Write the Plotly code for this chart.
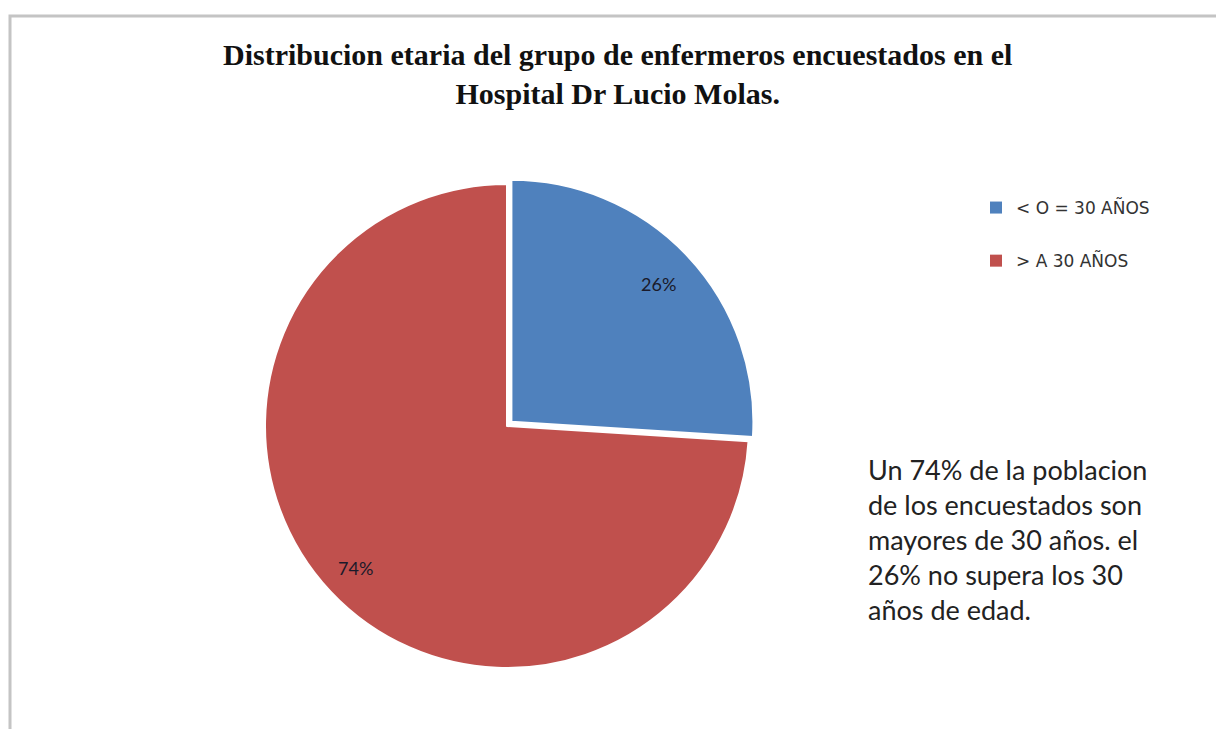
import math
import plotly.graph_objects as go

# Age groups and their share of surveyed nurses (%)
groups = ["< O = 30 AÑOS", "> A 30 AÑOS"]
shares = [26, 74]
colors = ["#4F81BD", "#C0504D"]

title_lines = [
    "Distribucion etaria del grupo de enfermeros encuestados en el",
    "Hospital Dr Lucio Molas.",
]
note_lines = [
    "Un 74% de la poblacion",
    "de los encuestados son",
    "mayores de 30 años. el",
    "26% no supera los 30",
    "años de edad.",
]

W, H = 1216, 729
cx, cy, r = 507, 426, 242
pull = 0.025
half = r * (1 + pull)

fig = go.Figure()

fig.add_trace(go.Pie(
    labels=groups,
    values=shares,
    sort=False,
    direction="clockwise",
    rotation=0,
    pull=[pull, 0],
    marker=dict(colors=colors, line=dict(color="white", width=2)),
    textinfo="none",
    domain=dict(x=[(cx - half) / W, (cx + half) / W],
                y=[1 - (cy + half) / H, 1 - (cy - half) / H]),
    showlegend=False,
    hoverinfo="label+percent",
))

# Legend entries, one group per age band so they can be spaced apart
for name, col in zip(groups, colors):
    fig.add_trace(go.Scatter(
        x=[None], y=[None], mode="markers", name=name, legendgroup=name,
        marker=dict(symbol="square", size=11, color=col),
    ))

annotations = [
    dict(text="<br>".join("<b>%s</b>" % t for t in title_lines),
         x=617 / W, y=1 - 36 / H,
         xref="paper", yref="paper", xanchor="center", yanchor="top",
         showarrow=False, align="center",
         font=dict(family="Liberation Serif", size=30, color="#111111")),
    dict(text="<br>".join(note_lines), x=866 / W, y=1 - 451 / H,
         xref="paper", yref="paper", xanchor="left", yanchor="top",
         showarrow=False, align="left",
         font=dict(family="Lato", size=27, color="#222222")),
]

# Percentage labels placed along each slice's mid-angle (clockwise from 12 o'clock)
total = sum(shares)
start = 0.0
for v in shares:
    frac = v / total
    mid = (start + frac / 2) * 2 * math.pi
    d = 0.86 * r
    px = cx + d * math.sin(mid)
    py = cy - d * math.cos(mid)
    annotations.append(dict(
        text="%d%%" % round(100 * frac), x=px / W, y=1 - py / H,
        xref="paper", yref="paper", xanchor="center", yanchor="middle",
        showarrow=False, font=dict(family="Lato", size=18, color="#1a1a2a")))
    start += frac

fig.update_layout(
    width=W, height=H,
    margin=dict(l=0, r=0, t=0, b=0),
    paper_bgcolor="white", plot_bgcolor="white",
    xaxis=dict(visible=False), yaxis=dict(visible=False),
    showlegend=True,
    legend=dict(x=976 / W, y=1 - 190 / H, xanchor="left", yanchor="top",
                traceorder="grouped", tracegroupgap=28,
                font=dict(family="DejaVu Sans", size=17, color="#333333"),
                itemsizing="constant", bgcolor="rgba(0,0,0,0)"),
    annotations=annotations,
    shapes=[dict(type="rect", xref="paper", yref="paper",
                 x0=10 / W, y0=-0.02, x1=1.02, y1=1 - 16 / H,
                 line=dict(color="#c4c4c4", width=3))],
)

fig.write_html("out.html")
